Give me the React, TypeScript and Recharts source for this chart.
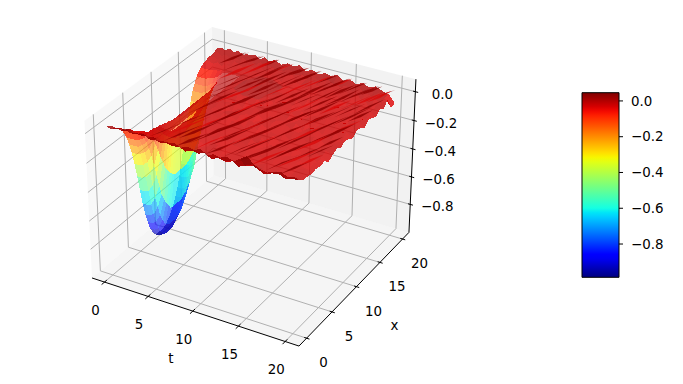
import React from 'react';
import { ComposedChart, Scatter, Bar, XAxis, YAxis } from 'recharts';

const W = 683;
const H = 384;

// values
const tGrid = [0, 0.5, 1, 1.5, 2, 2.5, 3, 3.5, 4, 4.5, 5, 5.5, 6, 6.7, 7.4, 8.1, 8.8, 9.5, 10.2, 10.9, 11.6, 12.3, 13, 13.7, 14.4, 15.1, 15.8, 16.5, 17.2, 17.9, 18.6, 19.3, 20];
const xGrid = [0, 0.8, 1.6, 2.4, 3.2, 4, 4.8, 5.6, 6.4, 7.2, 8, 8.8, 9.6, 10.4, 11.2, 12, 12.8, 13.6, 14.4, 15.2, 16, 16.8, 17.6, 18.4, 19.2, 20];

// surface height in hundredths, one row per x, one column per t
const zRows = [
  [3, 2, 4, 3, 5, 3, 4, 4, 5, 3, 5, 3, 4, 4, 5, 3, 5, 4, 6, 3, 5, 4, 6, 4, 7, 10, 6, 4, 3, 5, 6, 4, 5],
  [1, 0, 1, 0, 2, 0, 1, 0, 1, -1, 1, -1, 0, -1, 0, -2, 0, -1, 1, -2, 0, -1, 1, -2, 0, 2, 0, -2, 0, 1, -1, 0, 1],
  [-3, -2, -3, -1, -2, -3, -1, -2, -3, -1, -3, -1, -3, -2, -3, -1, -3, -2, -1, -3, -2, -4, -1, -2, -3, -1, -2, -3, -1, -3, -2, -1, -2],
  [-6, -6, -5, -5, -4, -3, -3, -2, -2, -2, -2, -3, -2, -3, -2, -4, -3, -1, -3, -4, -2, -1, -3, -2, -4, -3, -1, -3, -2, -4, -2, -3, -2],
  [-14, -14, -14, -13, -11, -7, -3, -1, 0, -1, -1, -2, -2, -1, -3, -2, -4, -2, -1, -3, -4, -2, -2, -4, -1, -2, -4, -3, -1, -4, -2, -1, -3],
  [-27, -27, -27, -26, -24, -20, -15, -9, -5, -2, -2, -1, -2, -4, -2, -3, -1, -3, -5, -2, -2, -3, -1, -4, -3, -1, -3, -2, -5, -2, -3, -4, -2],
  [-46, -46, -45, -44, -40, -34, -25, -15, -8, -4, -2, -1, -3, -1, -4, -2, -3, -1, -4, -2, -1, -3, -5, -2, -3, -1, -4, -2, -1, -3, -5, -2, -3],
  [-68, -68, -67, -65, -60, -50, -37, -22, -12, -5, -2, -2, -1, -3, -1, -4, -2, -3, -1, -5, -2, -1, -3, -4, -1, -2, -2, -5, -3, -1, -2, -4, -2],
  [-84, -84, -83, -81, -74, -62, -46, -28, -14, -6, -3, -1, -2, -1, -4, -1, -3, -2, -5, -1, -3, -2, -1, -4, -5, -2, -3, -1, -4, -2, -1, -3, -5],
  [-94, -94, -93, -90, -83, -70, -52, -31, -16, -7, -3, -2, -1, -4, -2, -2, -4, -1, -2, -3, -5, -2, -2, -1, -4, -3, -2, -5, -1, -3, -2, -1, -3],
  [-98, -98, -97, -94, -86, -73, -54, -32, -17, -7, -1, -1, -2, -1, -3, -5, -2, -2, -4, -1, -3, -5, -2, -3, -1, -4, -2, -1, -3, -5, -2, -2, -1],
  [-98, -98, -97, -94, -86, -72, -54, -32, -17, -7, -1, -2, -1, -3, -1, -2, -4, -5, -1, -3, -2, -4, -1, -5, -2, -1, -3, -2, -1, -2, -4, -1, -3],
  [-97, -97, -96, -93, -85, -72, -53, -32, -16, -7, -1, -1, -2, -4, -2, -1, -3, -1, -5, -3, -1, -2, -5, -1, -3, -4, -1, -2, -5, -1, -2, -3, -1],
  [-93, -93, -92, -89, -82, -69, -51, -31, -16, -6, -1, -2, -1, -1, -5, -2, -1, -4, -2, -5, -1, -3, -2, -2, -1, -5, -2, -1, -4, -2, -1, -5, -2],
  [-87, -87, -86, -84, -77, -64, -48, -29, -15, -6, -1, -1, -3, -2, -1, -4, -3, -1, -3, -1, -5, -1, -3, -4, -1, -2, -5, -1, -2, -3, -2, -1, -4],
  [-77, -77, -76, -74, -68, -57, -42, -25, -13, -5, -1, -1, -1, -5, -2, -1, -5, -2, -1, -4, -2, -2, -1, -5, -3, -1, -2, -4, -2, -1, -5, -2, -1],
  [-62, -62, -61, -60, -55, -46, -34, -20, -11, -4, -1, -2, -1, -1, -4, -2, -1, -5, -3, -1, -2, -5, -2, -1, -4, -2, -3, -1, -5, -2, -1, -3, -2],
  [-45, -45, -45, -43, -40, -33, -25, -15, -8, -3, -1, -2, -2, -4, -1, -5, -2, -1, -4, -2, -1, -2, -5, -1, -2, -4, -1, -3, -1, -5, -2, -1, -4],
  [-30, -30, -30, -29, -26, -22, -17, -10, -5, -2, -1, -1, -2, -1, -3, -1, -4, -2, -1, -5, -3, -1, -4, -2, -5, -1, -2, -5, -1, -2, -4, -2, -1],
  [-17, -17, -17, -16, -15, -13, -9, -6, -3, -1, -1, -1, -2, -4, -1, -2, -5, -1, -2, -2, -4, -1, -2, -5, -1, -3, -2, -1, -4, -2, -1, -5, -2],
  [-9, -9, -9, -8, -7, -5, -2, -1, -1, -1, -1, -1, -1, -1, -4, -2, -1, -3, -5, -1, -2, -4, -1, -2, -4, -1, -5, -2, -1, -4, -2, -1, -4],
  [-5, -5, -5, -4, -4, -3, -2, -1, -2, -3, -1, -2, -4, -1, -1, -4, -2, -1, -3, -5, -1, -2, -4, -1, -2, -4, -1, -5, -1, -1, -4, -2, -1],
  [-3, -2, -3, -1, -3, -1, -2, -4, -1, -2, -4, -1, -1, -4, -1, -1, -3, -5, -1, -2, -1, -5, -1, -3, -1, -4, -1, -2, -4, -1, -5, -1, -3],
  [-2, -1, -2, 0, -1, -3, 0, -2, -3, 0, -1, -3, 0, -2, -3, 0, -1, 1, -4, -1, 1, -2, -3, 0, -4, 0, -2, 0, -4, 1, -1, -3, 1],
  [-2, 0, -2, 0, -2, 0, -2, 1, -1, 0, -2, 1, -1, 0, -2, -1, 1, -2, 0, -3, 0, -2, 1, -1, -2, 0, -3, 1, -2, -2, 1, -1, -7],
  [0, 1, 0, 2, 0, 2, 0, 1, 1, 2, 0, 2, 0, 2, 0, 2, 1, 3, 0, 2, 0, 2, 1, 3, 0, 2, 0, 2, 0, 2, 0, -1, -6],
];

// finer rows across the well, for the first 11 t columns, x from 3.2 to 16
const wellX = [3.2, 3.6, 4, 4.4, 4.8, 5.2, 5.6, 6, 6.4, 6.8, 7.2, 7.6, 8, 8.4, 8.8, 9.2, 9.6, 10, 10.4, 10.8, 11.2, 11.6, 12, 12.4, 12.8, 13.2, 13.6, 14, 14.4, 14.8, 15.2, 15.6, 16];
const wellRows = [
  [-14, -14, -14, -13, -11, -7, -3, -1, 0, -1, -1],
  [-20, -20, -20, -18, -15, -10, -4, -1, -1, -1, -1],
  [-27, -27, -26, -24, -21, -14, -6, -2, -1, -1, -1],
  [-36, -36, -35, -32, -27, -18, -8, -2, -1, -1, -1],
  [-46, -46, -45, -41, -35, -23, -10, -3, -1, -1, -1],
  [-57, -57, -56, -51, -43, -29, -13, -3, -1, -1, -1],
  [-68, -68, -67, -61, -52, -34, -15, -4, -1, -1, -1],
  [-77, -77, -75, -69, -59, -39, -17, -5, -1, -1, -1],
  [-84, -84, -82, -76, -64, -42, -18, -5, -1, -1, -1],
  [-90, -90, -88, -81, -68, -45, -20, -5, -1, -1, -1],
  [-94, -94, -92, -85, -71, -47, -21, -6, -1, -1, -1],
  [-97, -97, -95, -87, -74, -49, -21, -6, -1, -1, -1],
  [-98, -98, -96, -88, -74, -49, -22, -6, -1, -1, -1],
  [-98, -98, -96, -88, -74, -49, -22, -6, -1, -1, -1],
  [-98, -98, -96, -88, -74, -49, -22, -6, -1, -1, -1],
  [-98, -98, -96, -88, -74, -49, -22, -6, -1, -1, -1],
  [-97, -97, -95, -87, -74, -49, -21, -6, -1, -1, -1],
  [-95, -95, -93, -86, -72, -48, -21, -6, -1, -1, -1],
  [-93, -93, -91, -84, -71, -47, -20, -6, -1, -1, -1],
  [-90, -90, -88, -81, -68, -45, -20, -5, -1, -1, -1],
  [-87, -87, -85, -78, -66, -44, -19, -5, -1, -1, -1],
  [-82, -82, -80, -74, -62, -41, -18, -5, -1, -1, -1],
  [-77, -77, -75, -69, -59, -39, -17, -5, -1, -1, -1],
  [-70, -70, -69, -63, -53, -35, -15, -4, -1, -1, -1],
  [-62, -62, -61, -56, -47, -31, -14, -4, -1, -1, -1],
  [-54, -54, -53, -49, -41, -27, -12, -3, -1, -1, -1],
  [-45, -45, -44, -41, -34, -23, -10, -3, -1, -1, -1],
  [-37, -37, -36, -33, -28, -19, -8, -2, -1, -1, -1],
  [-30, -30, -29, -27, -23, -15, -7, -2, -1, -1, -1],
  [-23, -23, -23, -21, -17, -12, -5, -1, -1, -1, -1],
  [-17, -17, -17, -15, -13, -9, -4, -1, -1, -1, -1],
  [-13, -13, -13, -12, -10, -7, -3, -1, -1, -1, -1],
  [-9, -9, -9, -8, -7, -5, -2, -1, -1, -1, -1],
];

// dark crests on the surface as t, x pairs
const crests = [
  [4.4, 0.2, 5, 1.8, 5.6, 3.8], [6.1, 0.4, 6.7, 2.2, 7.6, 4.9], [7.6, 0.2, 8.1, 1.5, 8.9, 3.6],
  [9.3, 0.3, 9.9, 2.4, 10.9, 4.9], [10.7, 0.2, 11.3, 1.6, 11.9, 3.5], [12.3, 0.4, 13, 2.7, 13.9, 5], [13.8, 0.2, 14.4, 1.9, 15.2, 4],
  [15.2, 0.3, 15.8, 2.2, 16.7, 4.6], [16.9, 0.4, 17.5, 2.2, 18.3, 4.1], [18.3, 0.3, 18.9, 2, 19.6, 3.9],
  [5.3, 2.8, 6, 4.9, 6.8, 7], [7.2, 3.1, 7.9, 5.2, 8.5, 6.9], [8.8, 2.9, 9.4, 4.6, 10.3, 7],
  [10.4, 3.2, 11, 4.8, 11.8, 7.1], [11.9, 2.8, 12.6, 5, 13.4, 7.2], [13.4, 3, 14, 4.7, 14.8, 6.8], [15, 3.2, 15.6, 4.9, 16.4, 7.1],
  [16.4, 2.9, 17.2, 5, 17.9, 7], [18, 3.1, 18.7, 5.2, 19.4, 7], [19, 2.5, 19.5, 3.9, 20, 5.4],
  [5.2, 6, 5.8, 7.9, 6.6, 10], [6.8, 6.2, 7.4, 7.8, 8.2, 10.2], [8.3, 5.9, 9, 8.1, 9.8, 10.1], [9.9, 6.1, 10.5, 8, 11.3, 10],
  [11.5, 5.8, 12.2, 8.1, 13, 10.3], [13, 6.2, 13.6, 7.9, 14.4, 10], [14.6, 5.9, 15.3, 8, 16, 9.9], [16.1, 6.1, 16.9, 8.3, 17.6, 10.3],
  [17.6, 5.8, 18.3, 7.9, 19.1, 10.2], [19, 6.2, 19.5, 7.7, 20, 9.2],
  [5.1, 9, 5.7, 11, 6.4, 13], [6.3, 9.1, 7, 11.2, 7.7, 13.1], [7.8, 8.9, 8.5, 11, 9.2, 13.2], [9.4, 9.2, 10, 11, 10.7, 12.8],
  [11, 8.8, 11.7, 11.1, 12.4, 13], [12.6, 9.1, 13.2, 11, 14, 13.2], [14.1, 8.9, 14.8, 11.2, 15.5, 13], [15.7, 9.1, 16.3, 10.9, 17.1, 13.2],
  [17.2, 9, 17.9, 11, 18.6, 13.1], [18.7, 8.9, 19.3, 10.7, 20, 12.9],
  [4.6, 12, 5.3, 14.1, 5.9, 16], [6.6, 12.2, 7.2, 14, 8, 16.2], [8.2, 11.9, 8.9, 14.1, 9.5, 16], [9.6, 12.1, 10.3, 14.2, 11, 16.1],
  [11.3, 11.8, 12, 14, 12.7, 16.2], [12.9, 12.2, 13.5, 14, 14.2, 15.9], [14.4, 11.9, 15.1, 14.1, 15.8, 16.1], [16, 12, 16.6, 13.9, 17.3, 16],
  [17.5, 12.2, 18.2, 14.3, 18.8, 16], [19, 12, 19.5, 13.6, 20, 15.2],
  [3.5, 15, 4.1, 16.9, 4.7, 18.8], [5.5, 15.1, 6.1, 17, 6.8, 19], [7.1, 14.9, 7.8, 17, 8.4, 19], [8.7, 15.2, 9.3, 17, 10, 19.1],
  [10.2, 14.9, 10.8, 16.8, 11.6, 19.2], [11.8, 15.1, 12.5, 17.2, 13.1, 19], [13.4, 14.9, 14, 16.8, 14.8, 19.1], [14.9, 15.1, 15.6, 17.2, 16.2, 19],
  [16.5, 15, 17.1, 16.9, 17.8, 19.1], [18, 15.1, 18.6, 16.9, 19.3, 19.1],
  [2.8, 17.4, 3.3, 18.7, 3.8, 20], [4.5, 17.6, 5, 18.8, 5.5, 20], [6.2, 17.5, 6.7, 19, 7.2, 20], [8, 17.6, 8.4, 18.9, 8.9, 20],
  [9.6, 17.4, 10.1, 18.8, 10.6, 20], [11.2, 17.6, 11.7, 19, 12, 20], [12.8, 17.4, 13.3, 18.9, 13.8, 20], [14.4, 17.6, 14.8, 18.8, 15.3, 20],
  [16, 17.5, 16.5, 18.9, 17, 20], [17.6, 17.4, 18.1, 18.8, 18.6, 20], [19.2, 17.6, 19.5, 18.8, 20, 20],
  [5.6, 1.2, 6.5, 3.9, 7.4, 6.5], [7, 1.5, 7.6, 3.1, 8.7, 6.3], [8.3, 1.1, 9.3, 3.9, 10.1, 6.4], [10.1, 1.7, 10.9, 3.6, 12, 6.8],
  [11.2, 1, 12.1, 3.9, 13, 6.2], [13, 1.4, 13.7, 3.4, 14.9, 6.6], [14.3, 1, 15.2, 3.5, 16.1, 6], [16, 1.5, 16.8, 3.7, 17.8, 6.4],
  [17.4, 1.2, 18.2, 3.4, 19.2, 6],
  [6.3, 4.4, 7.1, 6.9, 8, 9.4], [7.9, 4.6, 8.6, 6.8, 9.6, 9.8], [9.5, 4.2, 10.3, 6.7, 11.1, 9.1], [11, 4.6, 11.9, 7.2, 12.7, 9.6],
  [12.6, 4.3, 13.3, 6.6, 14.2, 9], [14.2, 4.5, 15, 7, 15.9, 9.5], [15.8, 4.2, 16.5, 6.4, 17.4, 8.9], [17.4, 4.6, 18.2, 7, 19, 9.4], [18.9, 4.2, 19.5, 6.1, 20, 7.4],
  [5.6, 7.5, 6.3, 10.1, 7, 12.4], [7.2, 7.6, 8, 10, 8.8, 12.5], [8.8, 7.4, 9.5, 9.9, 10.3, 12.3], [10.4, 7.6, 11.2, 10.2, 12, 12.6],
  [12, 7.4, 12.8, 9.8, 13.6, 12.5], [13.6, 7.6, 14.3, 9.9, 15.2, 12.4], [15.2, 7.5, 16, 10, 16.7, 12.5], [16.8, 7.3, 17.5, 9.7, 18.4, 12.3], [18.4, 7.5, 19.1, 9.9, 19.8, 12],
  [5, 10.7, 5.8, 13.2, 6.6, 15.7], [6.9, 10.5, 7.7, 13, 8.4, 15.4], [8.5, 10.8, 9.2, 13.1, 10.1, 15.7], [10.1, 10.6, 10.9, 13, 11.6, 15.3],
  [11.8, 10.8, 12.5, 13.2, 13.4, 15.6], [13.3, 10.5, 14.1, 13, 14.8, 15.4], [15, 10.7, 15.7, 13, 16.5, 15.6], [16.5, 10.5, 17.2, 12.9, 18, 15.3], [18.1, 10.8, 18.8, 13, 19.6, 15.5],
  [4.1, 13.5, 4.8, 15.8, 5.6, 18.3], [6, 13.7, 6.7, 16, 7.5, 18.5], [7.7, 13.4, 8.3, 15.6, 9.1, 18.2], [9.3, 13.7, 10, 16, 10.8, 18.6], [11, 13.4, 11.6, 15.6, 12.4, 18],
  [12.5, 13.7, 13.2, 16, 14, 18.5], [14, 13.4, 14.7, 15.6, 15.4, 18.1], [15.6, 13.7, 16.4, 16.1, 17, 18.4], [17.2, 13.5, 17.9, 15.8, 18.7, 18.2], [18.8, 13.6, 19.4, 15.7, 20, 17.8],
  [2.4, 16.4, 3, 18, 3.5, 19.8], [4.1, 16.6, 4.6, 18.2, 5.2, 19.9], [5.8, 16.4, 6.4, 18.2, 7, 20], [7.4, 16.6, 8, 18.4, 8.5, 19.9], [9, 16.3, 9.6, 18.1, 10.2, 19.9],
  [10.8, 16.5, 11.3, 18.1, 11.9, 20], [12.3, 16.4, 12.9, 18.2, 13.5, 20], [14, 16.6, 14.5, 18.1, 15.1, 19.9], [15.6, 16.3, 16.2, 18, 16.8, 19.9], [17.1, 16.5, 17.7, 18.3, 18.3, 20], [18.8, 16.4, 19.3, 18, 19.8, 19.6],
];

// see-through shadow patch on the far half of the surface, t, x pairs
const shadow = [[6, 13], [6.1, 14.8], [6.9, 16.5], [8.4, 16.5], [10.1, 15.6], [10, 14], [9.2, 12.2], [7.5, 12.2]];

const tTicks = [0, 5, 10, 15, 20];
const xTicks = [0, 5, 10, 15, 20];
const zTicks = [0, -0.2, -0.4, -0.6, -0.8];
const cbarTicks = [0, -0.2, -0.4, -0.6, -0.8];

const T_LIM = [-1.458, 21.458];
const X_LIM = [-1.458, 21.458];
const Z_LIM = [-1.007, 0.086];
const Z_DATA = [-0.986, 0.046];

const FONT = 'DejaVu Sans';
const FS = 13.4;

// matplotlib's default camera, elev 30 azim -60
const project = (t: number, x: number, z: number) => {
  const a = ((t - T_LIM[0]) / (T_LIM[1] - T_LIM[0]) - 0.5) * 1.1905;
  const b = ((x - X_LIM[0]) / (X_LIM[1] - X_LIM[0]) - 0.5) * 1.1905;
  const c = ((z - Z_LIM[0]) / (Z_LIM[1] - Z_LIM[0]) - 0.5) * 0.8929;
  const xv = 0.866 * a + 0.5 * b;
  const yv = -0.25 * a + 0.433 * b + 0.866 * c;
  const d = 10 - (0.433 * a - 0.75 * b + 0.5 * c);
  return { sx: 253.4 + (1992 * xv) / d, sy: 178.9 - (2006 * yv) / d, d };
};

const lerp = (v: number, s: number[][]) => {
  for (let i = 1; i < s.length; i++) {
    if (v <= s[i][0]) return s[i - 1][1] + ((v - s[i - 1][0]) / (s[i][0] - s[i - 1][0])) * (s[i][1] - s[i - 1][1]);
  }
  return s[s.length - 1][1];
};
const JET_R = [[0, 0], [0.35, 0], [0.66, 1], [0.89, 1], [1, 0.5]];
const JET_G = [[0, 0], [0.125, 0], [0.375, 1], [0.64, 1], [0.91, 0], [1, 0]];
const JET_B = [[0, 0.5], [0.11, 1], [0.34, 1], [0.65, 0], [1, 0]];
const jet = (v: number) => {
  const n = Math.max(0, Math.min(1, v));
  const ch = (s: number[][]) => Math.round(lerp(n, s) * 255);
  return `rgb(${ch(JET_R)},${ch(JET_G)},${ch(JET_B)})`;
};

type P3 = number[];
const polyMark = (pts: P3[], style: any) => {
  const p = pts.map(q => project(q[0], q[1], q[2]));
  return {
    px: p[0].sx,
    py: p[0].sy,
    off: p.map(q => [q.sx - p[0].sx, q.sy - p[0].sy]),
    depth: p.reduce((s, q) => s + q.d, 0) / p.length,
    ...style,
  };
};

const Mark = (props: any) => {
  const { cx, cy, payload: m } = props;
  if (m.label) {
    return (
      <text x={cx} y={cy} textAnchor="middle" dominantBaseline="central" fontFamily={FONT} fontSize={FS} fill="#000">
        {m.label}
      </text>
    );
  }
  const pts = m.off.map((o: number[]) => `${cx + o[0]},${cy + o[1]}`).join(' ');
  if (m.fill) {
    return <polygon points={pts} fill={m.fill} fillOpacity={m.opacity} stroke="none" shapeRendering={m.crisp ? 'crispEdges' : undefined} />;
  }
  return <polyline points={pts} fill="none" stroke={m.stroke} strokeWidth={m.width} strokeOpacity={m.opacity ?? 1} />;
};

const [t0, t1] = T_LIM;
const [x0, x1] = X_LIM;
const [z0, z1] = Z_LIM;

const paneMarks = [
  polyMark([[t0, x0, z0], [t0, x1, z0], [t0, x1, z1], [t0, x0, z1]], { fill: '#f2f2f2', opacity: 0.5 }),
  polyMark([[t0, x1, z0], [t1, x1, z0], [t1, x1, z1], [t0, x1, z1]], { fill: '#e6e6e6', opacity: 0.5 }),
  polyMark([[t0, x0, z0], [t1, x0, z0], [t1, x1, z0], [t0, x1, z0]], { fill: '#ececec', opacity: 0.5 }),
];

const GRID = { stroke: '#b0b0b0', width: 1 };
const gridMarks = [
  ...tTicks.map(t => polyMark([[t, x0, z0], [t, x1, z0], [t, x1, z1]], GRID)),
  ...xTicks.map(x => polyMark([[t1, x, z0], [t0, x, z0], [t0, x, z1]], GRID)),
  ...zTicks.map(z => polyMark([[t0, x0, z], [t0, x1, z], [t1, x1, z]], GRID)),
];

const AXIS = { stroke: '#000', width: 1 };
const axisMarks = [
  polyMark([[t0, x0, z0], [t1, x0, z0]], AXIS),
  polyMark([[t1, x0, z0], [t1, x1, z0]], AXIS),
  polyMark([[t1, x1, z0], [t1, x1, z1]], AXIS),
  ...tTicks.map(t => polyMark([[t, x0 + 0.4, z0], [t, x0 - 0.5, z0]], AXIS)),
  ...xTicks.map(x => polyMark([[t1 - 0.25, x, z0], [t1 + 0.3, x, z0]], AXIS)),
  ...zTicks.map(z => polyMark([[t1 - 0.25, x1, z], [t1 + 0.3, x1, z]], AXIS)),
];

const faceOf = (ta: number, tb: number, xa: number, xb: number, h: number[], opacity: number) => {
  const mean = (h[0] + h[1] + h[2] + h[3]) / 400;
  return polyMark(
    [
      [ta, xa, h[0] / 100],
      [tb, xa, h[1] / 100],
      [tb, xb, h[2] / 100],
      [ta, xb, h[3] / 100],
    ],
    { fill: jet((mean - Z_DATA[0]) / (Z_DATA[1] - Z_DATA[0])), opacity, crisp: true },
  );
};

const faces: any[] = [];
for (let i = 0; i < xGrid.length - 1; i++) {
  for (let j = 0; j < tGrid.length - 1; j++) {
    if (j < 10 && i >= 4 && i < 20) continue; // drawn from wellRows
    faces.push(faceOf(tGrid[j], tGrid[j + 1], xGrid[i], xGrid[i + 1], [zRows[i][j], zRows[i][j + 1], zRows[i + 1][j + 1], zRows[i + 1][j]], 0.8));
  }
}
for (let i = 0; i < wellX.length - 1; i++) {
  for (let j = 0; j < 10; j++) {
    faces.push(faceOf(tGrid[j], tGrid[j + 1], wellX[i], wellX[i + 1], [wellRows[i][j], wellRows[i][j + 1], wellRows[i + 1][j + 1], wellRows[i + 1][j]], 0.64));
  }
}
faces.sort((a, b) => b.depth - a.depth);

// each crest is a thin lens, widest in its middle
const crestMarks = crests.map((c, i) => {
  const w = 0.4 + ((i * 7) % 5) * 0.26;
  const mid = project(c[2], c[3], 0.03);
  const a = project(c[0], c[1], 0.03);
  const b = project(c[4], c[5], 0.03);
  return {
    px: a.sx,
    py: a.sy,
    off: [
      [0, 0],
      [mid.sx - a.sx + w * 0.45, mid.sy - a.sy + w * 0.9],
      [b.sx - a.sx, b.sy - a.sy],
      [mid.sx - a.sx - w * 0.45, mid.sy - a.sy - w * 0.9],
    ],
    fill: i % 4 === 3 ? '#d80c0c' : '#8f0000',
    opacity: 0.85,
  };
});
const shadowMark = polyMark(shadow.map(s => [s[0], s[1], 0.01]), { fill: '#4a4a4a', opacity: 0.16 });

const textMark = (t: number, x: number, z: number, dx: number, dy: number, label: string) => {
  const p = project(t, x, z);
  return { px: p.sx + dx, py: p.sy + dy, label };
};
const fmt = (v: number) => (v < 0 ? `\u2212${Math.abs(v).toFixed(1)}` : v.toFixed(1));
const labelMarks = [
  ...tTicks.map(t => textMark(t, x0, z0, -9, 28, String(t))),
  ...xTicks.map(x => textMark(t1, x, z0, 17, 24.5, String(x))),
  ...zTicks.map(z => textMark(t1, x1, z, 27, 2.5, fmt(z))),
  textMark(10, x0, z0, -22, 47, 't'),
  textMark(t1, 10, z0, 38, 39, 'x'),
];

const layers = [paneMarks, gridMarks, axisMarks, faces, [shadowMark], crestMarks, labelMarks];
const cbarData = [{ name: 'z', range: Z_DATA }];
const jetStops = Array.from({ length: 41 }, (_, i) => i / 40);

export default function App() {
  return (
    <div style={{ position: 'absolute', left: 0, top: 0, width: W, height: H, background: '#fff' }}>
      <div style={{ position: 'absolute', left: 0, top: 0 }}>
        <ComposedChart width={W} height={H} margin={{ top: 0, right: 0, bottom: 0, left: 0 }}>
          <XAxis type="number" dataKey="px" domain={[0, W]} hide allowDataOverflow />
          <YAxis type="number" dataKey="py" domain={[0, H]} reversed hide allowDataOverflow />
          {layers.map((layer, i) => (
            <Scatter key={i} data={layer} shape={Mark} isAnimationActive={false} />
          ))}
        </ComposedChart>
      </div>
      <div style={{ position: 'absolute', left: 0, top: 0 }}>
        <ComposedChart
          width={W}
          height={H}
          data={cbarData}
          barCategoryGap={0}
          margin={{ top: 92.7, right: 14, bottom: 106.7, left: 582 }}
        >
          <defs>
            <linearGradient id="jetFill" x1="0" y1="1" x2="0" y2="0">
              {jetStops.map(s => (
                <stop key={s} offset={s} stopColor={jet(s)} />
              ))}
            </linearGradient>
          </defs>
          <XAxis type="category" dataKey="name" hide />
          <YAxis
            type="number"
            orientation="right"
            width={50}
            domain={Z_DATA}
            ticks={cbarTicks}
            tickFormatter={fmt}
            axisLine={false}
            tickSize={4}
            tickMargin={8}
            tick={{ fontFamily: FONT, fontSize: FS, fill: '#000' }}
            tickLine={{ stroke: '#000' }}
            interval={0}
          />
          <Bar dataKey="range" fill="url(#jetFill)" stroke="#000" strokeWidth={1} isAnimationActive={false} />
        </ComposedChart>
      </div>
    </div>
  );
}
